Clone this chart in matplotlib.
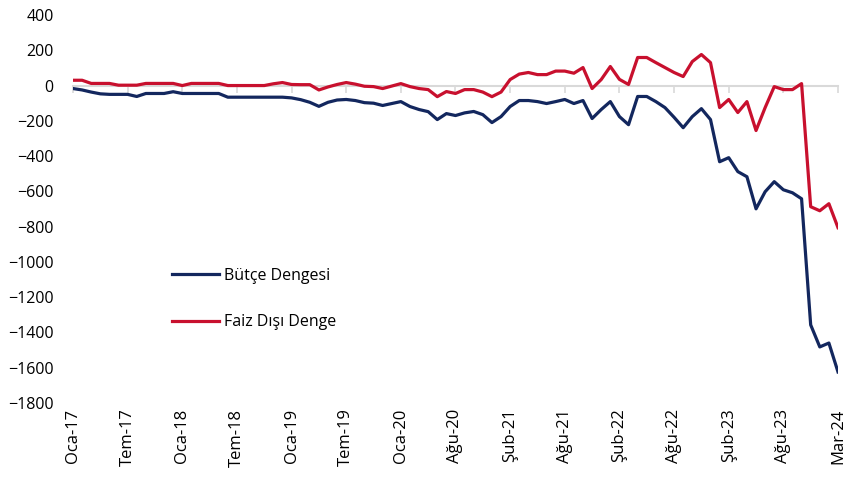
import numpy as np
import matplotlib.pyplot as plt

plt.rcParams['font.family'] = ['Open Sans', 'DejaVu Sans']

# aylik seriler (milyar TL), Oca-17 .. Mar-24
butce = [-17, -25, -37, -47, -50, -50, -50, -62, -45, -45,
         -45, -35, -45, -45, -45, -45, -45, -66, -66, -66,
         -66, -66, -66, -66, -70, -80, -95, -118, -95, -82,
         -79, -85, -97, -100, -113, -102, -91, -119, -136, -148,
         -193, -159, -170, -155, -147, -165, -210, -176, -119, -85,
         -85, -91, -102, -91, -79, -102, -85, -187, -136, -91,
         -176, -222, -62, -62, -91, -125, -180, -239, -176, -131,
         -193, -432, -409, -488, -517, -699, -602, -545, -591, -608,
         -642, -1357, -1482, -1460, -1624]
faiz_disi = [30, 30, 12, 12, 12, 2, 2, 2, 12, 12,
             12, 12, 0, 12, 12, 12, 12, 0, 0, 0,
             0, 0, 10, 17, 6, 5, 5, -25, -8, 6,
             17, 8, -4, -6, -17, -3, 11, -6, -17, -23,
             -63, -34, -45, -23, -23, -37, -63, -37, 34, 65,
             74, 62, 62, 82, 82, 70, 102, -17, 34, 108,
             35, 6, 159, 159, 130, 102, 74, 51, 136, 176,
             130, -125, -79, -153, -91, -255, -125, -6, -23, -23,
             11, -687, -710, -670, -806]
tick_labels = ['Oca-17', 'Tem-17', 'Oca-18', 'Tem-18', 'Oca-19', 'Tem-19', 'Oca-20',
               'Ağu-20', 'Şub-21', 'Ağu-21', 'Şub-22', 'Ağu-22', 'Şub-23', 'Ağu-23', 'Mar-24']

x = np.arange(len(butce))
tick_pos = np.arange(0, len(butce), 6)

fig = plt.figure(figsize=(8.45, 4.79), dpi=100)
ax = fig.add_axes([73 / 845, 1 - 403 / 479, (838 - 73) / 845, (403 - 15) / 479])

ax.plot(x, butce, color='#13275e', lw=2.3, label='Bütçe Dengesi', solid_joinstyle='round')
ax.plot(x, faiz_disi, color='#c8102e', lw=2.3, label='Faiz Dışı Denge', solid_joinstyle='round')

ax.set_xlim(0, len(butce) - 1)
ax.set_ylim(-1800, 400)
ax.set_yticks(np.arange(-1800, 401, 200))
ax.tick_params(axis='y', length=0, pad=14, labelsize=11.5, colors='#000000')

for s in ['top', 'right', 'left']:
    ax.spines[s].set_visible(False)
ax.spines['bottom'].set_position(('data', 0))
ax.spines['bottom'].set_color('#d9d9d9')
ax.spines['bottom'].set_linewidth(1.5)
ax.spines['bottom'].set_zorder(0)
ax.set_xticks(tick_pos)
ax.tick_params(axis='x', direction='out', length=5, width=1.2, color='#d9d9d9', labelbottom=False)

sec = ax.secondary_xaxis('bottom')
sec.set_xticks(tick_pos)
sec.set_xticklabels(tick_labels, rotation=90, fontsize=12)
sec.tick_params(length=0, pad=4)
sec.spines['bottom'].set_visible(False)

ax.legend(loc='upper left', bbox_to_anchor=(0.11, 0.385), frameon=False, fontsize=11.5,
          handlelength=3.0, labelspacing=1.9, handletextpad=0.3)

fig.savefig('out.png', dpi=100)
